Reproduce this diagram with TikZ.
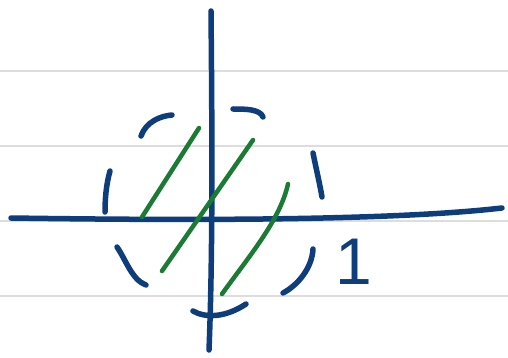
\documentclass[tikz,border=0pt]{standalone}
\usepackage{fontspec}
\newfontfamily\handfont{Liberation Sans}
\definecolor{inkblue}{HTML}{0E3D7C}
\definecolor{inkgreen}{HTML}{1B7A34}
\definecolor{ruled}{HTML}{DDDDDD}
\begin{document}
\begin{tikzpicture}[x=1pt,y=-1pt,
  rule/.style={ruled,line width=1.5pt},
  bluepen/.style={inkblue,line width=5.5pt,line cap=round,line join=round},
  greenpen/.style={inkgreen,line width=4.5pt,line cap=round,line join=round}]
\useasboundingbox (0,0) rectangle (508,358);
\fill[white] (0,0) rectangle (508,358);
% ruled lines
\foreach \yy in {71,146,221,296} \draw[rule] (0,\yy) -- (508,\yy);
% axes
\coordinate (vtop) at (211,11);
\coordinate (vbot) at (209,350);
\coordinate (hl) at (11,218);
\coordinate (hr) at (502,208);
\draw[bluepen] (vtop) .. controls (212,120) and (213,250) .. (vbot);
\draw[bluepen] (hl) .. controls (150,220) and (380,222) .. (hr);
% dashed circle pieces
\draw[bluepen] (141,136) .. controls (146,122) and (160,116) .. (172,115);
\draw[bluepen] (233,109) .. controls (245,109) and (260,109) .. (263,117);
\draw[bluepen] (110,171) .. controls (106,185) and (105,200) .. (105,212);
\draw[bluepen] (313,153) .. controls (316,168) and (320,185) .. (322,197);
\draw[bluepen] (117,247) .. controls (126,260) and (132,280) .. (146,285);
\draw[bluepen] (313,249) .. controls (312,268) and (298,285) .. (283,293);
\draw[bluepen] (193,311) .. controls (205,318) and (225,318) .. (246,304);
% green hatching
\draw[greenpen] (142,217) -- (199,128);
\draw[greenpen] (162,271) -- (253,140);
\draw[greenpen] (222,294) .. controls (250,255) and (280,220) .. (288,184);
% label
\node[inkblue,font=\handfont\fontsize{66}{66}\selectfont,inner sep=0pt] (one) at (354,262) {1};
\end{tikzpicture}
\end{document}
